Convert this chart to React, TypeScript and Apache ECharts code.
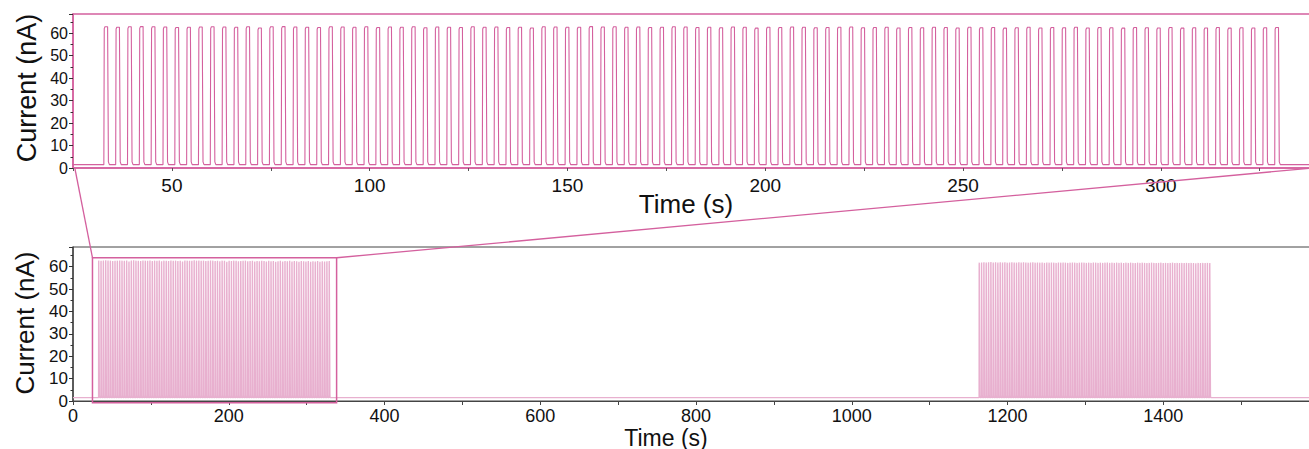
import React, { useEffect, useRef } from "react";
import * as echarts from "echarts";

// ---- data ----
const BASELINE = 1.5; // nA, resting current
const PERIOD = 2.99; // s between pulse onsets
const PULSE_HIGH = 1.15; // s the current stays high
const BURST1_START = 32.8; // s
const BURST2_START = 1163.5; // s
const TRACE_END = 1600; // s

// peak current of each pulse, burst 1 (nA)
const burst1Peaks = [
  62.8, 62.6, 62.8, 62.9, 62.8, 62.7, 62.5, 62.6, 62.7, 62.8,
  62.7, 62.6, 62.8, 62.3, 62.8, 62.9, 62.7, 62.6, 62.5, 62.8,
  62.7, 62.6, 62.8, 62.5, 62.7, 62.6, 62.8, 62.4, 62.7, 62.6,
  62.5, 62.8, 62.6, 62.7, 62.5, 62.6, 62.3, 62.8, 62.7, 62.6,
  62.6, 62.9, 62.7, 62.8, 62.6, 62.7, 62.5, 62.6, 62.8, 62.7,
  62.5, 62.6, 62.4, 62.7, 62.6, 62.2, 62.6, 62.5, 62.7, 62.6,
  62.4, 62.5, 62.6, 62.7, 62.4, 62.5, 62.6, 62.3, 62.5, 62.4,
  62.6, 62.5, 62.3, 62.6, 62.4, 62.5, 62.2, 62.4, 62.6, 62.3,
  62.5, 62.4, 62.6, 62.3, 62.5, 62.4, 62.2, 62.5, 62.4, 62.3,
  62.5, 62.2, 62.4, 62.3, 62.5, 62.2, 62.4, 62.3, 62.4, 62.5,
];

// peak current of each pulse, burst 2 (nA)
const burst2Peaks = [
  61.8, 61.9, 62.0, 61.9, 62.0, 62.1, 61.9, 62.0, 61.9, 62.0,
  61.9, 62.0, 61.8, 61.9, 62.0, 61.9, 61.8, 62.0, 61.9, 62.0,
  61.9, 61.8, 61.9, 62.0, 61.8, 61.9, 61.8, 61.9, 61.7, 61.9,
  61.8, 61.9, 61.8, 61.7, 61.9, 61.8, 61.9, 61.8, 61.7, 61.8,
  61.9, 61.8, 61.7, 61.8, 61.9, 61.8, 61.7, 61.8, 61.7, 61.9,
  61.8, 61.7, 61.8, 61.7, 61.8, 61.9, 61.7, 61.8, 61.7, 61.8,
  61.7, 61.8, 61.6, 61.8, 61.7, 61.8, 61.7, 61.6, 61.8, 61.7,
  61.8, 61.7, 61.6, 61.7, 61.8, 61.7, 61.6, 61.7, 61.8, 61.6,
  61.7, 61.6, 61.7, 61.8, 61.6, 61.7, 61.6, 61.7, 61.6, 61.7,
  61.6, 61.7, 61.6, 61.5, 61.7, 61.6, 61.7, 61.6, 61.7, 61.6,
];

// axes
const TOP_X = [25, 340];
const TOP_Y = [0, 68.5];
const BOTTOM_X = [0, 1600];
const BOTTOM_Y = [0, 68.8];
const ZOOM_BOX_X = [25, 338.5]; // the box drawn round burst 1 in the lower panel
const ZOOM_BOX_Y = [-0.8, 64];

const PINK = "#d4609e";
const FONT = "'Liberation Sans', Arial, Helvetica, sans-serif";

function pushBurst(pts: number[][], start: number, peaks: number[]) {
  peaks.forEach((p, i) => {
    const t = start + i * PERIOD;
    pts.push([t, BASELINE]);
    pts.push([t + 0.1, p - 0.8]);
    pts.push([t + 0.28, p]);
    pts.push([t + PULSE_HIGH - 0.2, p]);
    pts.push([t + PULSE_HIGH, BASELINE + 1.2]);
    pts.push([t + PULSE_HIGH + 0.25, BASELINE]);
  });
}

function buildTrace(): number[][] {
  const pts: number[][] = [[0, BASELINE]];
  pushBurst(pts, BURST1_START, burst1Peaks);
  pushBurst(pts, BURST2_START, burst2Peaks);
  pts.push([TRACE_END, BASELINE]);
  return pts;
}

export default function App() {
  const ref = useRef<HTMLDivElement>(null);

  useEffect(() => {
    if (!ref.current) return;
    const chart = echarts.init(ref.current, undefined, { renderer: "svg" });
    const trace = buildTrace();

    const yAxisCommon = (gridIndex: number, range: number[], lineColor: string, fontSize: number) => ({
      type: "value",
      gridIndex,
      min: range[0],
      max: range[1],
      interval: 10,
      splitLine: { show: false },
      axisLine: { show: true, lineStyle: { color: lineColor, width: 1.5 } },
      axisTick: { show: true, inside: false, length: 4, lineStyle: { color: "#333" } },
      minorTick: { show: true, splitNumber: 2, length: 2.5, lineStyle: { color: "#333" } },
      axisLabel: {
        margin: 5,
        fontSize,
        color: "#111",
        fontFamily: FONT,
        formatter: (v: number) => (v % 10 === 0 && v >= 0 && v <= 60 ? String(v) : ""),
      },
    });

    chart.setOption({
      animation: false,
      backgroundColor: "#fff",
      grid: [
        {
          left: 73,
          right: -10,
          top: 14,
          bottom: 281,
          outerBoundsMode: "none",
          containLabel: false,
          show: true,
          borderColor: PINK,
          borderWidth: 1.5,
        },
        {
          left: 73,
          right: -10,
          top: 247,
          bottom: 48,
          outerBoundsMode: "none",
          containLabel: false,
          show: true,
          borderColor: "#444",
          borderWidth: 1,
        },
      ],
      xAxis: [
        {
          type: "value",
          gridIndex: 0,
          min: TOP_X[0],
          max: TOP_X[1],
          interval: 25,
          splitLine: { show: false },
          axisLine: { show: true, lineStyle: { color: PINK, width: 1.5 } },
          axisTick: { show: true, inside: false, length: 3, lineStyle: { color: "#555" } },
          axisLabel: {
            margin: 8,
            fontSize: 19,
            color: "#111",
            fontFamily: FONT,
            formatter: (v: number) => (v % 50 === 0 ? String(v) : ""),
          },
        },
        {
          type: "value",
          gridIndex: 1,
          min: BOTTOM_X[0],
          max: BOTTOM_X[1],
          interval: 100,
          splitLine: { show: false },
          axisLine: { show: true, lineStyle: { color: "#444", width: 1.2 } },
          axisTick: { show: true, inside: false, length: 4, lineStyle: { color: "#444" } },
          axisLabel: {
            margin: 6,
            fontSize: 18,
            color: "#111",
            fontFamily: FONT,
            formatter: (v: number) => (v % 200 === 0 && v < 1600 ? String(v) : ""),
          },
        },
      ],
      yAxis: [
        yAxisCommon(0, TOP_Y, PINK, 16),
        yAxisCommon(1, BOTTOM_Y, "#444", 17),
      ],
      series: [
        {
          type: "line",
          xAxisIndex: 0,
          yAxisIndex: 0,
          data: trace,
          showSymbol: false,
          clip: true,
          lineStyle: { color: PINK, width: 1.1 },
        },
        {
          type: "line",
          xAxisIndex: 1,
          yAxisIndex: 1,
          data: trace,
          showSymbol: false,
          clip: true,
          lineStyle: { color: "#e8b0cf", width: 1.3 },
        },
      ],
    });

    const boxTL = chart.convertToPixel({ gridIndex: 1 }, [ZOOM_BOX_X[0], ZOOM_BOX_Y[1]]) as number[];
    const boxBR = chart.convertToPixel({ gridIndex: 1 }, [ZOOM_BOX_X[1], ZOOM_BOX_Y[0]]) as number[];
    const topBL = chart.convertToPixel({ gridIndex: 0 }, [ZOOM_BOX_X[0], TOP_Y[0]]) as number[];
    const topBR = chart.convertToPixel({ gridIndex: 0 }, [ZOOM_BOX_X[1], TOP_Y[0]]) as number[];

    chart.setOption({
      graphic: [
        {
          type: "rect",
          shape: { x: boxTL[0], y: boxTL[1], width: boxBR[0] - boxTL[0], height: boxBR[1] - boxTL[1] },
          style: { fill: "none", stroke: PINK, lineWidth: 1.5 },
          z: 10,
        },
        {
          type: "line",
          shape: { x1: topBL[0] + 2, y1: topBL[1] + 1, x2: boxTL[0], y2: boxTL[1] },
          style: { stroke: PINK, lineWidth: 1.3 },
          z: 10,
        },
        {
          type: "line",
          shape: { x1: topBR[0], y1: topBR[1], x2: boxBR[0], y2: boxTL[1] },
          style: { stroke: PINK, lineWidth: 1.3 },
          z: 10,
        },
        {
          type: "text",
          x: 686,
          y: 204,
          style: {
            text: "Time (s)",
            font: `26px ${FONT}`,
            fill: "#111",
            textAlign: "center",
            textVerticalAlign: "middle",
          },
        },
        {
          type: "text",
          x: 666,
          y: 449,
          style: {
            text: "Time (s)",
            font: `23px ${FONT}`,
            fill: "#111",
            textAlign: "center",
            textVerticalAlign: "bottom",
          },
        },
        {
          type: "text",
          x: 27,
          y: 88,
          rotation: Math.PI / 2,
          style: {
            text: "Current (nA)",
            font: `27px ${FONT}`,
            fill: "#111",
            textAlign: "center",
            textVerticalAlign: "middle",
          },
        },
        {
          type: "text",
          x: 25,
          y: 323,
          rotation: Math.PI / 2,
          style: {
            text: "Current (nA)",
            font: `26px ${FONT}`,
            fill: "#111",
            textAlign: "center",
            textVerticalAlign: "middle",
          },
        },
      ],
    });

    return () => chart.dispose();
  }, []);

  return (
    <div
      ref={ref}
      style={{ position: "fixed", left: 0, top: 0, width: 1309, height: 449, background: "#fff" }}
    />
  );
}
